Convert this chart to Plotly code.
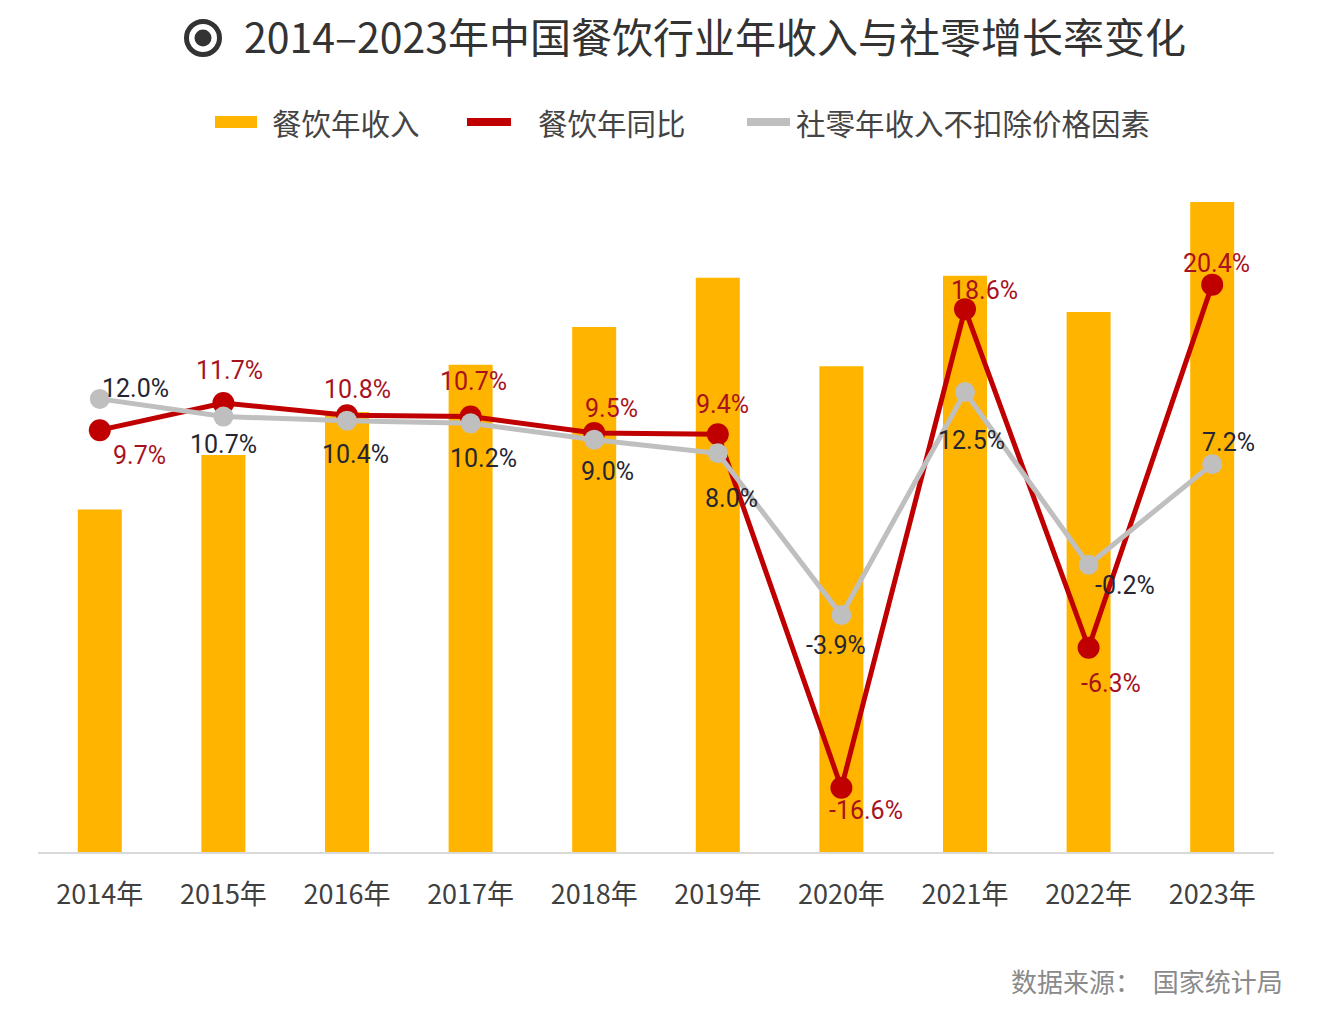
import plotly.graph_objects as go

# ---------------- data ----------------
years = ["2014年", "2015年", "2016年", "2017年", "2018年",
         "2019年", "2020年", "2021年", "2022年", "2023年"]
catering_revenue = [27860, 32310, 35799, 39644, 42716, 46721, 39527, 46895, 43941, 52890]  # 亿元
catering_yoy = [9.7, 11.7, 10.8, 10.7, 9.5, 9.4, -16.6, 18.6, -6.3, 20.4]
retail_growth = [12.0, 10.7, 10.4, 10.2, 9.0, 8.0, -3.9, 12.5, -0.2, 7.2]

series_names = ["餐饮年收入", "餐饮年同比", "社零年收入不扣除价格因素"]
title_text = "2014–2023年中国餐饮行业年收入与社零增长率变化"
source_text = "数据来源：  国家统计局"

# ---------------- styling / layout ----------------
W, H = 1328, 1018
L, R, T, B = 38, 1274, 190, 852

BAR_COLOR = "#FFB400"
RED = "#C00000"
GRAY = "#BFBFBF"
RED_TXT = "#A8121E"
GRAY_TXT = "#262633"
TITLE_COLOR = "#333333"
CJK = "Noto Sans CJK SC, Noto Sans, sans-serif"
NUM = "Roboto, DejaVu Sans, sans-serif"

def px(x):   # screen x -> paper fraction
    return (x - L) / (R - L)

def py(y):   # screen y -> paper fraction
    return (B - y) / (B - T)

# label offsets in pixels (dx right, dy down)
red_offsets = [(40, 25), (6, -32), (10, -26), (3, -35), (17, -24),
               (5, -30), (25, 23), (19, -19), (22, 36), (4, -21)]
gray_offsets = [(36, -10), (0, 28), (8, 34), (13, 35), (13, 32),
                (14, 45), (-5, 30), (6, 48), (36, 21), (16, -22)]

fig = go.Figure()

fig.add_trace(go.Bar(
    x=years, y=catering_revenue, name=series_names[0],
    marker=dict(color=BAR_COLOR, line=dict(width=0)),
    showlegend=False,
))

fig.add_trace(go.Scatter(
    x=years, y=catering_yoy, name=series_names[1], yaxis="y2",
    mode="lines+markers",
    line=dict(color=RED, width=5),
    marker=dict(color=RED, size=22),
    showlegend=False,
))

fig.add_trace(go.Scatter(
    x=years, y=retail_growth, name=series_names[2], yaxis="y2",
    mode="lines+markers",
    line=dict(color=GRAY, width=5),
    marker=dict(color=GRAY, size=20),
    showlegend=False,
))

annotations = []
for yr, v, (dx, dy) in zip(years, catering_yoy, red_offsets):
    annotations.append(dict(
        x=yr, y=v, xref="x", yref="y2", text=f"{v:.1f}%",
        showarrow=False, xshift=dx, yshift=-dy,
        font=dict(family=NUM, size=25, color=RED_TXT),
    ))
for yr, v, (dx, dy) in zip(years, retail_growth, gray_offsets):
    annotations.append(dict(
        x=yr, y=v, xref="x", yref="y2", text=f"{v:.1f}%",
        showarrow=False, xshift=dx, yshift=-dy,
        font=dict(family=NUM, size=25, color=GRAY_TXT),
    ))

shapes = []

# title bullet (ring with dot)
CX, CY = 203, 38
for r, filled in ((16.5, False), (8.5, True)):
    shapes.append(dict(
        type="circle", xref="paper", yref="paper",
        x0=px(CX - r), x1=px(CX + r), y0=py(CY + r), y1=py(CY - r),
        line=dict(color=TITLE_COLOR, width=0 if filled else 5),
        fillcolor=TITLE_COLOR if filled else "rgba(0,0,0,0)",
    ))

# manual legend
legend_items = [
    ("rect", BAR_COLOR, 215, 257, 270, series_names[0]),
    ("line", RED, 467, 511, 536, series_names[1]),
    ("line", GRAY, 747, 790, 794, series_names[2]),
]
LEG_Y = 122
for kind, col, x0, x1, tx, label in legend_items:
    if kind == "rect":
        shapes.append(dict(type="rect", xref="paper", yref="paper",
                           x0=px(x0), x1=px(x1), y0=py(LEG_Y + 6), y1=py(LEG_Y - 6),
                           fillcolor=col, line=dict(width=0)))
    else:
        shapes.append(dict(type="line", xref="paper", yref="paper",
                           x0=px(x0), x1=px(x1), y0=py(LEG_Y), y1=py(LEG_Y),
                           line=dict(color=col, width=8)))
    annotations.append(dict(
        x=px(tx), y=py(LEG_Y), xref="paper", yref="paper", text=label,
        xanchor="left", yanchor="middle", showarrow=False,
        font=dict(family=CJK, size=29.5, color="#444444"),
    ))

annotations.append(dict(
    x=px(1285), y=py(980), xref="paper", yref="paper", text=source_text,
    xanchor="right", yanchor="middle", showarrow=False,
    font=dict(family=CJK, size=26, color="#8A8A8A"),
))

fig.update_layout(
    width=W, height=H,
    margin=dict(l=L, r=W - R, t=T, b=H - B, autoexpand=False),
    paper_bgcolor="white", plot_bgcolor="white",
    bargap=0.644,
    title=dict(text=title_text, x=715 / W, y=1 - 39 / H,
               xanchor="center", yanchor="middle",
               font=dict(family=CJK, size=41, color=TITLE_COLOR)),
    xaxis=dict(range=[-0.5, len(years) - 0.5], showgrid=False, zeroline=False,
               showline=True, linecolor="#D9D9D9", linewidth=1.5,
               ticks="outside", ticklen=18, tickcolor="rgba(0,0,0,0)",
               tickfont=dict(family=CJK, size=27, color="#404040")),
    yaxis=dict(range=[0, 53866], visible=False, showgrid=False, zeroline=False),
    yaxis2=dict(range=[-21.32, 27.36], overlaying="y", side="right",
                visible=False, showgrid=False, zeroline=False),
    annotations=annotations,
    shapes=shapes,
)

fig.write_html("out.html", config={"displayModeBar": False},
               post_script="document.body.style.margin='0px';")
